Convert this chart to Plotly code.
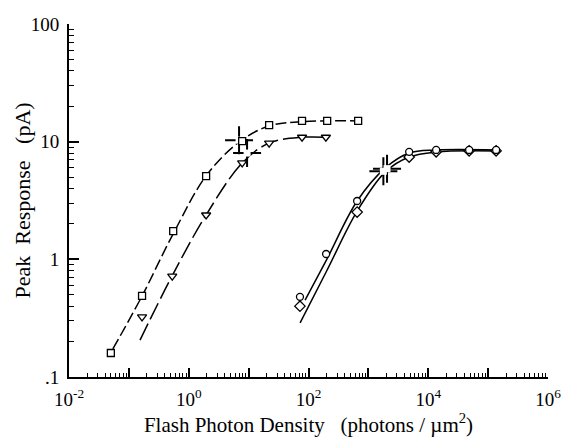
import plotly.graph_objects as go

# ---- data ----
sq_x = [0.050, 0.166, 0.55, 1.95, 7.8, 22.0, 78.0, 205, 675]
sq_y = [0.160, 0.49, 1.74, 5.1, 10.1, 13.8, 15.0, 15.0, 15.0]

tri_x = [0.166, 0.53, 1.95, 7.8, 22.0, 78.0, 195]
tri_y = [0.324, 0.72, 2.38, 6.6, 9.7, 10.9, 10.9]

cir_x = [72, 197, 649, 4800, 13550, 48200, 136000]
cir_y = [0.48, 1.11, 3.13, 8.2, 8.5, 8.5, 8.5]

dia_x = [72, 649, 4800, 13550, 48200, 136000]
dia_y = [0.40, 2.52, 7.4, 8.2, 8.35, 8.35]

# fitted curves
sq_fit_x = [0.054, 0.166, 0.547, 1.945, 6.92, 22.0, 78.2, 675]
sq_fit_y = [0.173, 0.488, 1.64, 5.11, 9.93, 13.6, 14.8, 15.0]

tri_fit_x = [0.1535, 0.526, 1.945, 7.78, 22.0, 78.2, 197]
tri_fit_y = [0.206, 0.721, 2.38, 6.58, 9.73, 10.9, 10.9]

cir_fit_x = [87.7, 197, 649, 1905, 4800, 13550, 136200]
cir_fit_y = [0.451, 0.975, 3.13, 5.96, 8.0, 8.49, 8.49]

dia_fit_x = [72.4, 197, 649, 1905, 4800, 13550, 136200]
dia_fit_y = [0.288, 0.780, 2.57, 5.51, 7.40, 8.17, 8.32]

# crosshair marks (1/k points)
cross_x = [6.92, 9.42, 1780, 2050]
cross_y = [10.3, 8.0, 5.6, 5.9]

x_tickvals = [0.01, 0.1, 1, 10, 100, 1e3, 1e4, 1e5, 1e6]
x_ticktext = ["10<sup>-2</sup>", "", "10<sup>0</sup>", "", "10<sup>2</sup>", "",
              "10<sup>4</sup>", "", "10<sup>6</sup>"]
y_tickvals = [0.1, 1, 10, 100]
y_ticktext = [".1", "1", "10", "100"]

FONT = "Liberation Serif, Times New Roman, serif"

fig = go.Figure()

def curve(x, y, dash):
    fig.add_trace(go.Scatter(x=x, y=y, mode="lines",
                             line=dict(color="black", width=1.5, dash=dash, shape="spline"),
                             hoverinfo="skip", showlegend=False))

curve(sq_fit_x, sq_fit_y, "11px,4px")
curve(tri_fit_x, tri_fit_y, "18px,5px")
curve(cir_fit_x, cir_fit_y, "solid")
curve(dia_fit_x, dia_fit_y, "solid")

# crosshairs
fig.add_trace(go.Scatter(x=cross_x, y=cross_y, mode="markers",
                         marker=dict(symbol="cross-thin", size=20,
                                     line=dict(color="black", width=2)),
                         showlegend=False, hoverinfo="skip"))
fig.add_trace(go.Scatter(x=cross_x, y=cross_y, mode="markers",
                         marker=dict(symbol="square", size=7, color="white",
                                     line=dict(width=0)),
                         showlegend=False, hoverinfo="skip"))

def pts(x, y, symbol, size):
    fig.add_trace(go.Scatter(x=x, y=y, mode="markers",
                             marker=dict(symbol=symbol, size=size, color="white",
                                         line=dict(color="black", width=1.3)),
                             showlegend=False))

pts(sq_x, sq_y, "square", 7)
pts(tri_x, tri_y, "triangle-down", 8)
pts(dia_x, dia_y, "diamond", 8)
pts(cir_x, cir_y, "circle", 7)

fig.update_layout(
    width=566, height=444,
    margin=dict(l=69, r=18, t=24, b=67),
    plot_bgcolor="white", paper_bgcolor="white",
    font=dict(family=FONT, color="black", size=18),
    annotations=[dict(
        text="Peak  Response   (pA)", textangle=-90,
        xref="paper", yref="paper", x=0, y=0.5, xshift=-47,
        xanchor="center", yanchor="middle", showarrow=False,
        font=dict(size=22, family=FONT, color="black"),
    )],
)
fig.update_xaxes(
    type="log", range=[-2, 6], automargin=False,
    tickmode="array", tickvals=x_tickvals, ticktext=x_ticktext,
    ticks="inside", ticklen=9, tickwidth=1.5, tickcolor="black",
    minor=dict(dtick="D1", ticks="inside", ticklen=4, tickwidth=1, tickcolor="black"),
    showline=True, linecolor="black", linewidth=2, showgrid=False, zeroline=False,
    ticklabelstandoff=4, ticklabeloverflow="allow",
    tickfont=dict(size=19),
    title=dict(text="Flash Photon Density   (photons / \u00b5m<sup>2</sup>)",
               font=dict(size=21), standoff=5),
)
fig.update_yaxes(
    type="log", range=[-1, 2], automargin=False,
    tickmode="array", tickvals=y_tickvals, ticktext=y_ticktext,
    ticks="inside", ticklen=10, tickwidth=1.5, tickcolor="black",
    minor=dict(dtick="D1", ticks="inside", ticklen=5, tickwidth=1, tickcolor="black"),
    showline=True, linecolor="black", linewidth=2, showgrid=False, zeroline=False,
    ticklabelstandoff=4, ticklabeloverflow="allow",
    tickfont=dict(size=19),
)

fig.write_html(
    "out.html",
    config={"displayModeBar": False},
    post_script="document.body.style.margin='0';document.body.style.overflow='hidden';",
)
